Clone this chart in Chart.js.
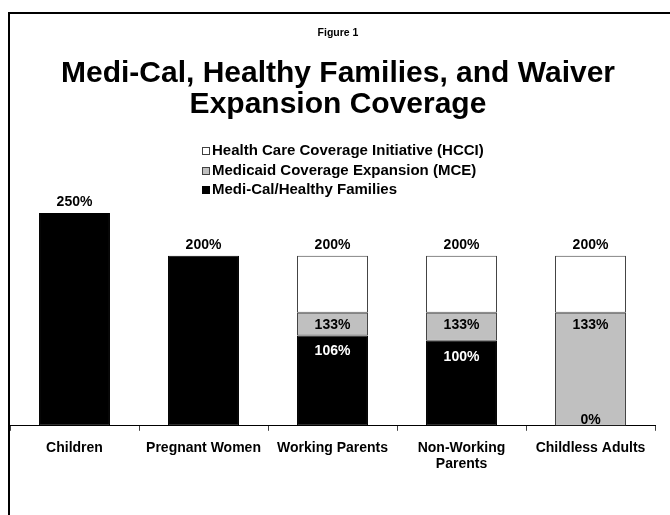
<!DOCTYPE html>
<html>
<head>
<meta charset="utf-8">
<script src="https://cdn.jsdelivr.net/npm/chart.js@4"></script>
<style>
  html, body { margin: 0; padding: 0; background: #fff; overflow: hidden; }
  #frame {
    position: absolute; left: 8px; top: 12px; width: 700px; height: 501px;
    border-left: 2px solid #000; border-top: 2px solid #000;
  }
</style>
</head>
<body>
<div id="frame"><canvas id="coverageChart"></canvas></div>
<script>
const categories = ['Children', 'Pregnant Women', 'Working Parents', ['Non-Working', 'Parents'], 'Childless Adults'];
// upper income limit of each program, % of poverty level
const mediCalLimits = [250, 200, 106, 100, 0];
const mceLimits = [null, null, 133, 133, 133];
const hcciLimits = [null, null, 200, 200, 200];
const seriesNames = ['Medi-Cal/Healthy Families', 'Medicaid Coverage Expansion (MCE)', 'Health Care Coverage Initiative (HCCI)'];

// stacked segment = this limit minus the limit below it
function segment(upper, lower) {
    return upper.map((v, i) => v === null ? null : v - (lower ? (lower[i] || 0) : 0));
}

Chart.defaults.font.family = '"Liberation Sans", Arial, sans-serif';
Chart.defaults.color = '#000';

const valueLabels = {
    id: 'valueLabels',
    afterDatasetsDraw(chart) {
        const ctx = chart.ctx;
        const sets = chart.data.datasets;
        ctx.save();
        ctx.font = 'bold 14px "Liberation Sans", Arial, sans-serif';
        ctx.textAlign = 'center';
        sets.forEach((ds, di) => {
            chart.getDatasetMeta(di).data.forEach((bar, i) => {
                const limit = ds.limits[i];
                if (limit === null) return;
                const onTop = sets.slice(di + 1).every(s => s.limits[i] === null);
                let y;
                ctx.fillStyle = '#000';
                if (onTop) {
                    ctx.textBaseline = 'bottom';
                    y = bar.y - 4;
                } else if (ds.data[i] === 0) {
                    ctx.textBaseline = 'bottom';
                    y = bar.base + 1;
                } else {
                    ctx.textBaseline = 'middle';
                    y = bar.y + ds.labelInset;
                    ctx.fillStyle = ds.labelColor;
                }
                ctx.fillText(limit + '%', bar.x, y);
            });
        });
        ctx.restore();
    }
};

// legend drawn as a column, top entry = top of the stack
const columnLegend = {
    id: 'columnLegend',
    afterDraw(chart) {
        const ctx = chart.ctx;
        const x = 192, y0 = 137, step = 19.5, box = 8;
        ctx.save();
        ctx.font = 'bold 15px "Liberation Sans", Arial, sans-serif';
        ctx.textBaseline = 'middle';
        ctx.textAlign = 'left';
        chart.data.datasets.slice().reverse().forEach((ds, k) => {
            const y = Math.round(y0 + k * step);
            ctx.fillStyle = ds.backgroundColor;
            ctx.fillRect(x, y - box / 2, box, box);
            ctx.strokeStyle = ds.borderColor;
            ctx.lineWidth = 1;
            ctx.strokeRect(x + 0.5, y - box / 2 + 0.5, box - 1, box - 1);
            ctx.fillStyle = '#000';
            ctx.fillText(ds.label, x + 10, y);
        });
        ctx.restore();
    }
};

const coverageChart = new Chart(document.getElementById('coverageChart').getContext('2d'), {
    type: 'bar',
    data: {
        labels: categories,
        datasets: [{
            label: seriesNames[0],
            data: segment(mediCalLimits),
            limits: mediCalLimits,
            backgroundColor: '#000000',
            borderColor: '#000000',
            labelColor: '#ffffff',
            labelInset: 16
        }, {
            label: seriesNames[1],
            data: segment(mceLimits, mediCalLimits),
            limits: mceLimits,
            backgroundColor: '#c0c0c0',
            borderColor: '#404040',
            labelColor: '#000000',
            labelInset: 12
        }, {
            label: seriesNames[2],
            data: segment(hcciLimits, mceLimits),
            limits: hcciLimits,
            backgroundColor: '#ffffff',
            borderColor: '#404040',
            labelColor: '#000000',
            labelInset: 12
        }]
    },
    options: {
        responsive: true,
        maintainAspectRatio: false,
        animation: false,
        datasets: {
            bar: {
                barPercentage: 0.55,
                categoryPercentage: 1.0,
                borderWidth: 1,
                borderSkipped: false
            }
        },
        layout: {
            padding: { left: 0, right: 44, top: 0, bottom: 34 }
        },
        plugins: {
            legend: { display: false },
            tooltip: { enabled: false },
            title: {
                display: true,
                text: 'Figure 1',
                font: { size: 10.5, weight: 'bold' },
                padding: { top: 13, bottom: 10 }
            },
            subtitle: {
                display: true,
                text: ['Medi-Cal, Healthy Families, and Waiver', 'Expansion Coverage'],
                color: '#000',
                font: { size: 30, weight: 'bold', lineHeight: 1.033 },
                padding: { top: 9, bottom: 50 }
            }
        },
        scales: {
            x: {
                stacked: true,
                grid: { drawOnChartArea: false, drawTicks: true, tickLength: 5, color: '#404040' },
                border: { display: true, color: '#000', width: 1 },
                ticks: {
                    padding: 9,
                    maxRotation: 0,
                    autoSkip: false,
                    font: { size: 14, weight: 'bold', lineHeight: 1.15 }
                }
            },
            y: {
                stacked: true,
                position: 'right',
                min: 0,
                max: 300,
                // no visible axis, just a narrow empty strip on the right
                ticks: { display: false },
                grid: { display: false },
                border: { display: false },
                afterFit(scale) { scale.width = 11; }
            }
        }
    },
    plugins: [valueLabels, columnLegend]
});
</script>
</body>
</html>
